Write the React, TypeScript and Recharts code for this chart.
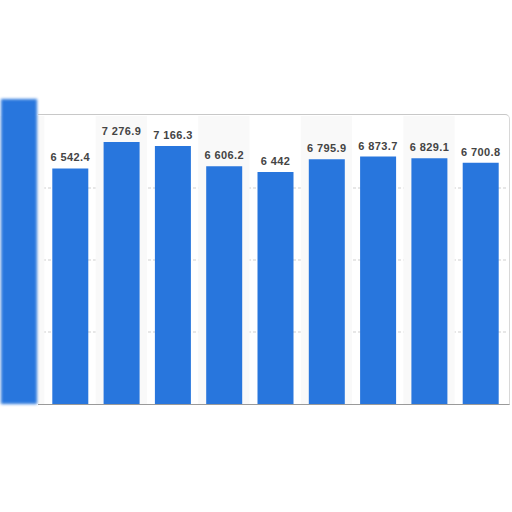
import {BarChart, Bar, XAxis, YAxis, CartesianGrid, ReferenceArea, LabelList, Cell} from 'recharts';

// category ids (the axis itself is cropped out of the picture)
const categories = ['1', '2', '3', '4', '5', '6', '7', '8', '9', '10'];
// the first bar is the blurred, cut-off one at the left edge
const values = [8470, 6542.4, 7276.9, 7166.3, 6606.2, 6442, 6795.9, 6873.7, 6829.1, 6700.8];
const labelled = [false, true, true, true, true, true, true, true, true, true];
const gridValues = [2000, 4000, 6000];

const BLUE = '#2876dd';

function formatValue(v: number): string {
    const [intPart, decPart] = String(v).split('.');
    const grouped = intPart.replace(/\B(?=(\d{3})+(?!\d))/g, ' ');
    return decPart ? `${grouped}.${decPart}` : grouped;
}

const data = categories.map((name, i) => ({
    name,
    value: values[i],
    label: labelled[i] ? formatValue(values[i]) : null,
}));

const shaded = categories.filter((_, i) => i % 2 === 0);

// one line of svg text, each space-separated group in its own tspan
const renderLabel = (props: any) => {
    const {x, y, width, value} = props;
    if (value === null || value === undefined) return null;
    const parts = String(value).split(' ');
    return (
        <text
            x={Number(x) + Number(width) / 2}
            y={Number(y) - 7}
            textAnchor="middle"
            fill="#444"
            fontSize={11}
            fontWeight="bold"
            letterSpacing={0.4}
            fontFamily="Arial, 'Liberation Sans', sans-serif"
        >
            {parts.map((p, i) => (
                <tspan key={i}>{i === 0 ? p : ` ${p}`}</tspan>
            ))}
        </text>
    );
};

export default function App() {
    return (
        <div style={{position: 'fixed', left: 0, top: 0, width: 512, height: 512, background: '#fff', overflow: 'hidden'}}>
            <div style={{position: 'absolute', left: -7, top: 0}}>
                <BarChart
                    width={513}
                    height={512}
                    data={data}
                    margin={{top: 98, right: 0, left: 0, bottom: 108}}
                    barSize={36}
                >
                    {shaded.map((c) => (
                        <ReferenceArea key={c} x1={c} x2={c} y1={0} y2={8000} fill="#f9f9f9" fillOpacity={1} stroke="none" />
                    ))}
                    <CartesianGrid
                        vertical={false}
                        horizontalValues={gridValues}
                        stroke="#cfcfcf"
                        strokeDasharray="3 2"
                    />
                    <XAxis dataKey="name" hide />
                    <YAxis hide domain={[0, 8500]} />
                    <Bar dataKey="value" fill={BLUE} isAnimationActive={false}>
                        {data.map((d, i) => (
                            <Cell key={d.name} fill={BLUE} style={i === 0 ? {filter: 'blur(1.5px)'} : undefined} />
                        ))}
                        <LabelList dataKey="label" content={renderLabel} />
                    </Bar>
                </BarChart>
            </div>
            <div
                style={{
                    position: 'absolute',
                    left: 38,
                    top: 114,
                    width: 471,
                    height: 289,
                    borderTop: '1px solid #c8c8c8',
                    borderRight: '1px solid #d8d8d8',
                    borderBottom: '1px solid #9a9a9a',
                    borderTopRightRadius: 5,
                    pointerEvents: 'none',
                }}
            />
        </div>
    );
}
